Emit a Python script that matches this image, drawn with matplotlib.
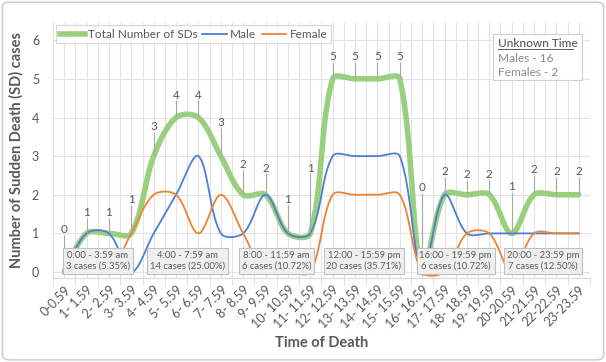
import numpy as np
import matplotlib
matplotlib.use('Agg')
import matplotlib.pyplot as plt
from matplotlib.patches import FancyBboxPatch, Rectangle
from matplotlib.lines import Line2D

plt.rcParams['font.family'] = ['Lato', 'DejaVu Sans']

# Data
hours = ['0-0.59', '1- 1.59', '2- 2.59', '3- 3.59', '4- 4.59', '5- 5.59', '6- 6.59',
         '7- 7.59', '8- 8.59', '9- 9.59', '10- 10.59', '11- 11.59', '12- 12.59',
         '13- 13.59', '14- 14.59', '15- 15.59', '16- 16.59', '17- 17.59', '18- 18.59',
         '19- 19.59', '20-20.59', '21-21.59', '22-22.59', '23-23.59']
total = [0, 1, 1, 1, 3, 4, 4, 3, 2, 2, 1, 1, 5, 5, 5, 5, 0, 2, 2, 2, 1, 2, 2, 2]
male = [0, 1, 1, 0, 1, 2, 3, 1, 1, 2, 1, 1, 3, 3, 3, 3, 0, 2, 1, 1, 1, 1, 1, 1]
female = [0, 0, 0, 1, 2, 2, 1, 2, 1, 0, 0, 0, 2, 2, 2, 2, 0, 0, 1, 1, 0, 1, 1, 1]
# how far each total label sits above its point
label_dy = [0.96, 0.4, 0.4, 0.73, 0.62, 0.44, 0.44, 0.72, 0.64, 0.55, 0.73, 1.55,
            0.43, 0.43, 0.43, 0.43, 2.04, 0.45, 0.38, 0.38, 1.07, 0.5, 0.45, 0.45]
period_text = ['0:00 - 3:59 am\n3 cases (5.35%)', '4:00 - 7:59 am\n14 cases (25.00%)',
               '8:00 - 11:59 am\n6 cases (10.72%)', '12:00 - 15:59 pm\n20 cases (35.71%)',
               '16:00 - 19:59 pm\n6 cases (10.72%)', '20:00 - 23:59 pm\n7 cases (12.50%)']
period_x = [1.5, 5.5, 9.5, 13.4, 17.5, 21.4]
unknown_male = 16
unknown_female = 2

YSCALE = 38.7 / 22.4  # pixel aspect of one y unit vs one category


def smooth(y, n=30):
    # Excel-like smoothed line: bezier segments, control points scaled by chord length
    y = np.asarray(y, dtype=float) * YSCALE
    x = np.arange(len(y), dtype=float)
    pts = np.column_stack([x, y])
    m = len(pts)
    t = np.linspace(0, 1, n)[:, None]
    out = []
    for i in range(m - 1):
        p0, p3 = pts[i], pts[i + 1]
        prev = pts[i - 1] if i > 0 else p0
        nxt = pts[i + 2] if i + 2 < m else p3
        d0 = np.hypot(*(p0 - prev))
        d1 = np.hypot(*(p3 - p0))
        d2 = np.hypot(*(nxt - p3))
        f1 = d1 / (d0 + d1) if d0 + d1 > 0 else 0
        f2 = d1 / (d1 + d2) if d1 + d2 > 0 else 0
        p1 = p0 + (p3 - prev) * f1 / 3
        p2 = p3 - (nxt - p0) * f2 / 3
        b = (1 - t) ** 3 * p0 + 3 * (1 - t) ** 2 * t * p1 + 3 * (1 - t) * t ** 2 * p2 + t ** 3 * p3
        out.append(b)
    b = np.vstack(out)
    return b[:, 0], b[:, 1] / YSCALE


green = '#9ACF7E'
blue = '#4C7FD6'
orange = '#EE8233'
gray = '#595959'

fig = plt.figure(figsize=(6.06, 3.62), dpi=100)
fig.patches.append(FancyBboxPatch((0.004, 0.006), 0.992, 0.988, boxstyle='round,pad=0,rounding_size=0.012',
                                  transform=fig.transFigure, facecolor='white', edgecolor='#D0D0D0',
                                  linewidth=1.2, zorder=-10))
ax = fig.add_axes([0.0875, 0.232, 0.886, 0.707])
ax.set_facecolor('none')

x = np.arange(len(hours))
ax.set_xlim(-0.5, len(hours) - 0.5)
ax.set_ylim(-0.155, 6.47)

# grid
for gx in np.arange(-0.5, len(hours), 0.5):
    ax.axvline(gx, color='#E3E3E3', lw=0.8, zorder=0)
for gy in range(0, 7):
    ax.axhline(gy, color='#E3E3E3', lw=0.8, zorder=0)

sx, sy = smooth(total)
ax.plot(sx, sy, color=green, lw=4, solid_capstyle='round', zorder=2)
sx, sy = smooth(male)
ax.plot(sx, sy, color=blue, lw=1.3, zorder=3)
sx, sy = smooth(female)
ax.plot(sx, sy, color=orange, lw=1.3, zorder=4)

# data labels with leader lines
for i, v in enumerate(total):
    ly = v + label_dy[i]
    ax.text(i, ly, str(v), ha='center', va='bottom', fontsize=8.5, color=gray, zorder=6)
    ax.plot([i, i], [ly - 0.02, v + 0.04], color='#A6A6A6', lw=0.8, zorder=5)

# period boxes
for px_, txt in zip(period_x, period_text):
    ax.text(px_, 0.29, txt, ha='center', va='center', fontsize=6.8, color=gray, linespacing=1.35,
            zorder=7, bbox=dict(boxstyle='square,pad=0.3', facecolor='#EFEFEF', edgecolor='#BFBFBF', lw=0.8))

# axes styling
for s in ['top', 'right', 'left']:
    ax.spines[s].set_visible(False)
ax.spines['bottom'].set_color('#D9D9D9')
ax.set_yticks(range(0, 7))
ax.tick_params(axis='y', length=0, labelsize=9, labelcolor=gray, pad=10)
ax.set_xticks(x)
ax.set_xticklabels(hours, rotation=45, ha='right', rotation_mode='anchor', fontsize=9, color=gray)
ax.tick_params(axis='x', length=0, pad=4)
ax.set_xticks(np.arange(-0.5, len(hours), 1), minor=True)
ax.tick_params(axis='x', which='minor', length=5, color='#D9D9D9')

ax.set_ylabel('Number of Sudden Death (SD) cases', fontsize=10.5, fontweight='bold', color=gray, labelpad=6)
ax.set_xlabel('Time of Death', fontsize=10.5, fontweight='bold', color=gray, labelpad=4)

# legend
handles = [Line2D([], [], color=green, lw=4), Line2D([], [], color=blue, lw=1.3),
           Line2D([], [], color=orange, lw=1.3)]
leg = ax.legend(handles, ['Total Number of SDs', 'Male', 'Female'], ncol=3, loc='upper left',
                bbox_to_anchor=(0.006, 0.987), fontsize=8.5, frameon=True, fancybox=False,
                handlelength=2.1, handletextpad=0.25, columnspacing=0.45, borderpad=0.3,
                borderaxespad=0, labelcolor=gray)
leg.get_frame().set_edgecolor('#D0D0D0')
leg.get_frame().set_linewidth(0.8)
leg.set_zorder(9)

# unknown time box
ax.add_patch(Rectangle((493 / 606, 1 - 80 / 362), 89 / 606, 46 / 362, transform=fig.transFigure,
                       facecolor='white', edgecolor='#D0D0D0', linewidth=0.8, zorder=7, clip_on=False))
ax.text(0.829, 0.902, 'Unknown Time', transform=ax.transAxes, fontsize=8.6, color=gray,
        fontweight='medium', va='baseline', zorder=8)
ax.plot([0.829, 0.968], [0.893, 0.893], transform=ax.transAxes, color=gray, lw=0.7, zorder=8)
ax.text(0.829, 0.844, f'Males - {unknown_male}', transform=ax.transAxes, fontsize=8.6, color='#8C8C8C',
        va='baseline', zorder=8)
ax.text(0.829, 0.789, f'Females - {unknown_female}', transform=ax.transAxes, fontsize=8.6, color='#8C8C8C',
        va='baseline', zorder=8)

fig.savefig('out.png', dpi=100)
